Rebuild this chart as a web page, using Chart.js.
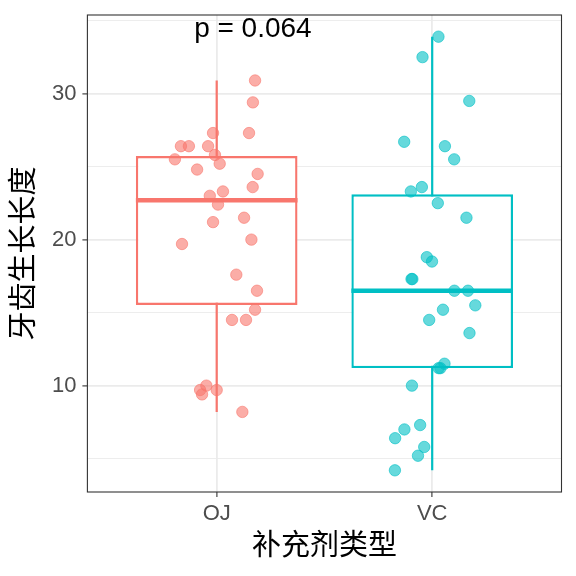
<!DOCTYPE html>
<html>
<head>
<meta charset="utf-8">
<script src="https://cdn.jsdelivr.net/npm/chart.js@4.4.1/dist/chart.umd.min.js"></script>
<style>
html,body{margin:0;padding:0;background:#fff;}
#wrap{width:576px;height:576px;position:relative;}
</style>
</head>
<body>
<div id="wrap"><canvas id="c" width="576" height="576"></canvas></div>
<script>
// ---- data (ToothGrowth, len by supp) ----
const categories = ['OJ', 'VC'];
const ojValues = [30.9, 29.4, 27.3, 27.3, 26.4, 26.4, 26.4, 25.5, 25.8, 25.2, 24.8, 24.5, 23.6, 23.3, 23.0,
                  22.4, 21.5, 21.2, 20.0, 19.7, 17.6, 16.5, 15.2, 14.5, 14.5, 10.0, 9.7, 9.4, 9.7, 8.2];
const ojJitter = [0.178, 0.168, 0.150, -0.017, -0.166, -0.129, -0.040, -0.194, -0.008, 0.014, -0.091, 0.190, 0.167, 0.029, -0.032,
                  0.006, 0.127, -0.017, 0.161, -0.161, 0.091, 0.187, 0.178, 0.071, 0.136, -0.048, -0.077, -0.068, 0.000, 0.119];
const vcValues = [33.9, 32.5, 29.5, 26.7, 26.4, 25.5, 23.6, 23.3, 22.5, 21.5, 18.8, 18.5, 17.3, 17.3, 16.5,
                  16.5, 15.5, 15.2, 14.5, 13.6, 11.5, 11.2, 11.2, 10.0, 7.3, 7.0, 6.4, 5.8, 5.2, 4.2];
const vcJitter = [0.029, -0.045, 0.172, -0.130, 0.059, 0.102, -0.048, -0.099, 0.026, 0.159, -0.025, -0.001, -0.096, -0.092, 0.103,
                  0.166, 0.200, 0.050, -0.014, 0.173, 0.057, 0.030, 0.038, -0.094, -0.056, -0.129, -0.172, -0.037, -0.066, -0.173];
const yMajorTicks = [10, 20, 30];
const yAllTicks = [5, 10, 15, 20, 25, 30, 35];
const pLabel = 'p = 0.064';
const xTitle = '补充剂类型';
const yTitle = '牙齿生长长度';

// ---- styles ----
const colors = ['#F8766D', '#00BFC4'];
const pointColors = ['rgba(248,118,109,0.6)', 'rgba(0,191,196,0.6)'];
const FONT = "'Liberation Sans', Arial, 'Noto Sans CJK SC', sans-serif";
const BOX_HALF = 0.375;

function quantile(arr, p) {
  const s = arr.slice().sort((a, b) => a - b);
  const h = (s.length - 1) * p;
  const lo = Math.floor(h), hi = Math.ceil(h);
  return s[lo] + (h - lo) * (s[hi] - s[lo]);
}
function boxStats(arr) {
  const q1 = quantile(arr, 0.25), med = quantile(arr, 0.5), q3 = quantile(arr, 0.75);
  const iqr = q3 - q1;
  const inside = arr.filter(v => v >= q1 - 1.5 * iqr && v <= q3 + 1.5 * iqr);
  return {q1, med, q3, lo: Math.min(...inside), hi: Math.max(...inside)};
}
const groups = [ojValues, vcValues];
const jitters = [ojJitter, vcJitter];
const stats = groups.map(boxStats);

const datasets = [];
// points (top)
groups.forEach((vals, g) => {
  datasets.push({
    type: 'scatter',
    data: vals.map((v, i) => ({x: g + 1 + jitters[g][i], y: v})),
    backgroundColor: pointColors[g],
    borderColor: pointColors[g],
    borderWidth: 1,
    pointRadius: 5.7,
    order: 0
  });
});
// medians
stats.forEach((s, g) => {
  datasets.push({
    type: 'line',
    data: [{x: g + 1 - BOX_HALF, y: s.med}, {x: g + 1 + BOX_HALF, y: s.med}],
    borderColor: colors[g],
    borderWidth: 4.5,
    borderCapStyle: 'butt',
    pointRadius: 0,
    fill: false,
    order: 1
  });
});
// boxes
datasets.push({
  type: 'bar',
  data: stats.map((s, g) => ({x: g + 1, y: [s.q1, s.q3]})),
  backgroundColor: '#ffffff',
  borderColor: colors,
  borderWidth: 2.4,
  borderSkipped: false,
  barPercentage: 2 * BOX_HALF,
  categoryPercentage: 1,
  order: 2
});
// whiskers
stats.forEach((s, g) => {
  datasets.push({
    type: 'line',
    data: [{x: g + 1, y: s.lo}, {x: g + 1, y: s.hi}],
    borderColor: colors[g],
    borderWidth: 2.2,
    borderCapStyle: 'butt',
    pointRadius: 0,
    fill: false,
    order: 3
  });
});

const annotationPlugin = {
  id: 'annot',
  afterDatasetsDraw(chart) {
    const {ctx, chartArea, scales} = chart;
    ctx.save();
    ctx.strokeStyle = '#333333';
    ctx.lineWidth = 1.1;
    ctx.strokeRect(chartArea.left, chartArea.top, chartArea.right - chartArea.left, chartArea.bottom - chartArea.top);
    ctx.fillStyle = '#000000';
    ctx.font = '28px ' + FONT;
    ctx.textAlign = 'center';
    ctx.textBaseline = 'alphabetic';
    ctx.fillText(pLabel, scales.x.getPixelForValue(1.168), scales.y.getPixelForValue(33.85));
    ctx.restore();
  }
};

const isMajor = v => yMajorTicks.includes(v);

new Chart(document.getElementById('c'), {
  type: 'scatter',
  data: {datasets},
  plugins: [annotationPlugin],
  options: {
    responsive: false,
    animation: false,
    events: [],
    layout: {padding: {top: 15, right: 14.5, left: 0, bottom: 0}},
    plugins: {legend: {display: false}, tooltip: {enabled: false}},
    scales: {
      x: {
        type: 'linear',
        min: 0.4, max: 2.6,
        offset: false,
        afterBuildTicks: s => { s.ticks = [{value: 1}, {value: 2}]; },
        afterFit: s => { s.height = 84; s.paddingLeft = 0; s.paddingRight = 0; },
        ticks: {
          callback: v => categories[v - 1],
          color: '#4D4D4D',
          font: {family: FONT, size: 22},
          padding: 4,
          maxRotation: 0,
          autoSkip: false
        },
        grid: {offset: false, color: '#EBEBEB', lineWidth: 1.8, tickLength: 5, tickColor: '#333333', tickWidth: 1.1},
        border: {display: false},
        title: {display: true, text: xTitle, color: '#000', font: {family: FONT, size: 29, lineHeight: 1}, padding: {top: 15, bottom: 15}}
      },
      y: {
        type: 'linear',
        min: 2.715, max: 35.385,
        afterBuildTicks: s => { s.ticks = yAllTicks.map(v => ({value: v})); },
        afterFit: s => { s.width = 87.4; s.paddingTop = 0; s.paddingBottom = 0; },
        ticks: {
          callback: v => isMajor(v) ? String(v) : '',
          color: '#4D4D4D',
          font: {family: FONT, size: 22},
          padding: 6
        },
        grid: {
          color: '#EBEBEB',
          lineWidth: c => (c.tick && isMajor(c.tick.value)) ? 1.8 : 0.9,
          tickLength: 5,
          tickColor: c => (c.tick && isMajor(c.tick.value)) ? '#333333' : 'rgba(0,0,0,0)',
          tickWidth: 1.1
        },
        border: {display: false},
        title: {display: true, text: yTitle, color: '#000', font: {family: FONT, size: 29, lineHeight: 1}, padding: {top: 10, bottom: 10}}
      }
    }
  }
});
</script>
</body>
</html>
